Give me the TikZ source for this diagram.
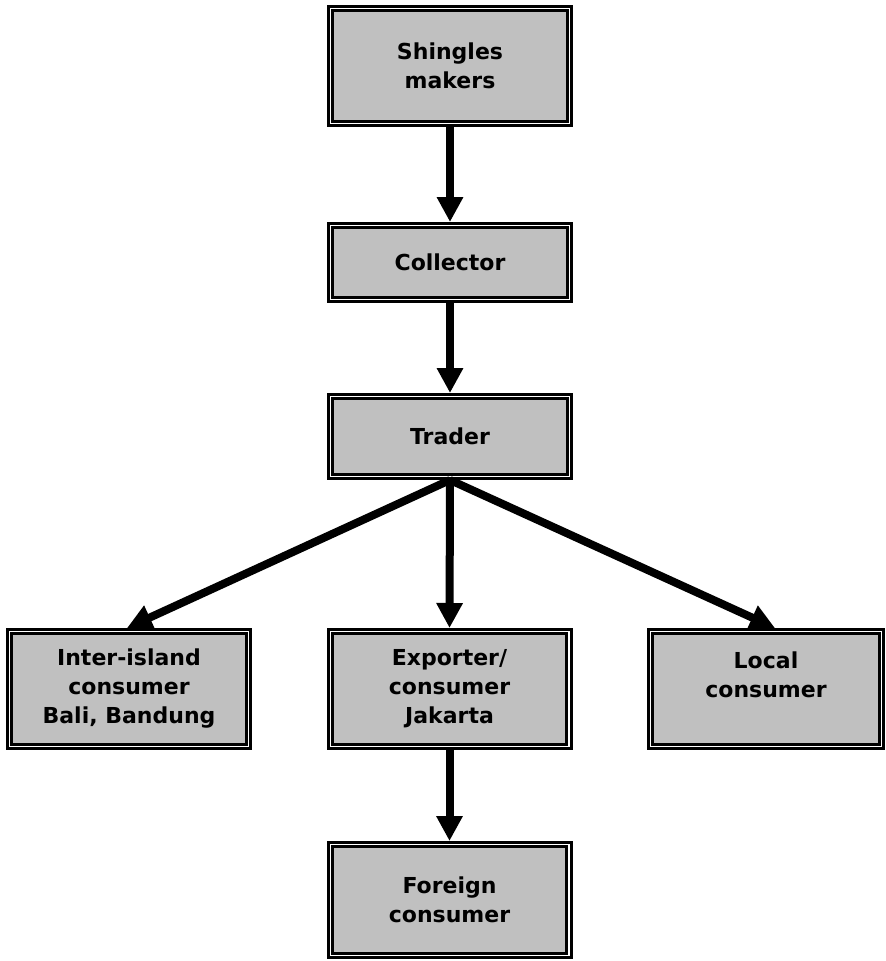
\documentclass[tikz,border=0pt]{standalone}
\usepackage{fontspec}
\setmainfont{DejaVu Sans}
\usetikzlibrary{arrows.meta,calc}
\definecolor{boxgray}{HTML}{C0C0C0}
\tikzset{
  x=1pt, y=-1pt,
  box/.style={draw=black, fill=boxgray, double=white, double distance=1.4pt,
    line width=3pt, inner sep=0pt, outer sep=3.7pt, align=center,
    font=\fontsize{22}{29}\selectfont\bfseries},
  flow/.style={line width=8pt, -{Triangle[length=25pt,width=25pt]}}
}
\begin{document}
\begin{tikzpicture}
\useasboundingbox (0,0) rectangle (886,961);
\node[box, minimum width=238.6pt, minimum height=114.6pt] (maker) at (450,66) {Shingles\\makers};
\node[box, minimum width=238.6pt, minimum height=73.6pt] (coll) at (450,262.5) {Collector};
\node[box, minimum width=238.6pt, minimum height=79.6pt] (trader) at (450,436.5) {Trader};
\node[box, minimum width=238.6pt, minimum height=114.6pt] (inter) at (129,689) {Inter-island\\consumer\\Bali, Bandung};
\node[box, minimum width=238.6pt, minimum height=114.6pt] (exp) at (449.5,689) {Exporter/\\consumer\\Jakarta};
\node[box, minimum width=231pt, minimum height=114.6pt] (local) at (766,689) {Local\\consumer\\\mbox{}};
\node[box, minimum width=238.6pt, minimum height=110.6pt] (foreign) at (449.5,900) {Foreign\\consumer};
\draw[flow] (maker.south) -- (coll.north);
\draw[flow] (coll.south) -- (trader.north);
\draw[flow] (trader.south) -- ($(inter.north)+(-2,0)$);
\draw[flow] (trader.south) -- (exp.north);
\draw[flow] (trader.south) -- ($(local.north)+(9,0)$);
\draw[flow] (exp.south) -- (foreign.north);
\end{tikzpicture}
\end{document}
